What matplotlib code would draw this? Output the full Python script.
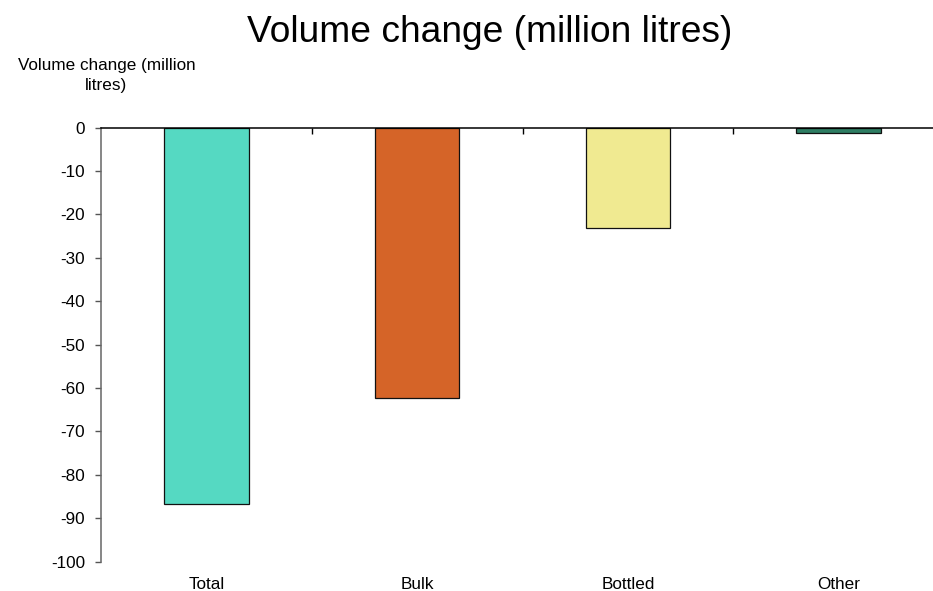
import matplotlib
matplotlib.use("Agg")
import matplotlib.pyplot as plt
import numpy as np

plt.rcParams['font.family'] = ['Liberation Sans', 'DejaVu Sans']

categories = ["Total", "Bulk", "Bottled", "Other"]
values = [-86.7, -62.3, -23.2, -1.2]
colors = ["#55D9C2", "#D56428", "#F0EA91", "#2E7D63"]
yticks = [0, -10, -20, -30, -40, -50, -60, -70, -80, -90, -100]

W, H = 933, 591
fig = plt.figure(figsize=(W / 100, H / 100), dpi=100)
ax = fig.add_axes([101 / W, (H - 561.5) / H, 843 / W, 433.8 / H])

x = np.arange(len(categories))
ax.bar(x, values, width=0.4, color=colors, edgecolor="#111111", linewidth=0.9)

ax.set_xlim(-0.5, len(categories) - 0.5)
ax.set_ylim(-100, 0)
ax.set_yticks(yticks)
ax.set_yticklabels([str(v) for v in yticks])

# category labels along the bottom, boundary ticks on the zero line
ax.set_xticks(x)
ax.set_xticklabels(categories)
ax.set_xticks(x[:-1] + 0.5, minor=True)
ax.tick_params(axis="x", which="major", length=0, pad=11, labelsize=12.3)
ax.tick_params(axis="x", which="minor", top=True, bottom=False,
               direction="in", length=4, width=1, color="black")
ax.tick_params(axis="y", direction="out", length=4, width=1, color="#555555",
               pad=7.5, labelsize=12.3)

ax.spines["bottom"].set_visible(False)
ax.spines["right"].set_visible(False)
ax.spines["top"].set_color("black")
ax.spines["top"].set_linewidth(1.1)
ax.spines["left"].set_color("#666666")
ax.spines["left"].set_linewidth(1.1)

fig.text(490 / W, 1 - 33 / H, "Volume change (million litres)",
         ha="center", va="center", fontsize=26.7)
fig.text(106.5 / W, 1 - 75.5 / H, "Volume change (million\nlitres)",
         ha="center", va="center", fontsize=12.3, linespacing=1.35)

fig.savefig("out.png", dpi=100)
